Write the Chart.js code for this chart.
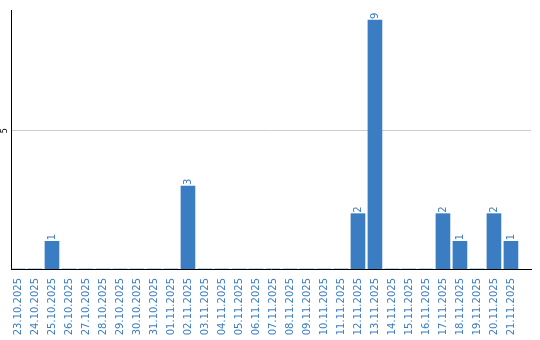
<!DOCTYPE html>
<html>
<head>
<meta charset="UTF-8">
<title>chart</title>
<script src="https://cdn.jsdelivr.net/npm/chart.js"></script>
<style>
    body { margin: 0; padding: 0; background: #fff; }
    .chart-container { width: 540px; height: 340px; position: relative; }
</style>
</head>
<body>
<div class="chart-container">
    <canvas id="barChart"></canvas>
</div>
<script>
    const dates = [
        '23.10.2025', '24.10.2025', '25.10.2025', '26.10.2025', '27.10.2025',
        '28.10.2025', '29.10.2025', '30.10.2025', '31.10.2025', '01.11.2025',
        '02.11.2025', '03.11.2025', '04.11.2025', '05.11.2025', '06.11.2025',
        '07.11.2025', '08.11.2025', '09.11.2025', '10.11.2025', '11.11.2025',
        '12.11.2025', '13.11.2025', '14.11.2025', '15.11.2025', '16.11.2025',
        '17.11.2025', '18.11.2025', '19.11.2025', '20.11.2025', '21.11.2025'
    ];
    const counts = [
        0, 0, 1, 0, 0, 0, 0, 0, 0, 0,
        3, 0, 0, 0, 0, 0, 0, 0, 0, 0,
        2, 9, 0, 0, 0, 2, 1, 0, 2, 1
    ];
    const yTicks = [5];

    const blue = '#3b7dc3';

    // value labels above the bars + rotated "5" on the y axis
    const labelPlugin = {
        id: 'labels',
        afterDatasetsDraw(chart) {
            const ctx = chart.ctx;
            const meta = chart.getDatasetMeta(0);
            ctx.save();
            ctx.fillStyle = blue;
            ctx.font = '10px "DejaVu Sans"';
            ctx.textAlign = 'left';
            ctx.textBaseline = 'middle';
            meta.data.forEach((bar, i) => {
                if (!counts[i]) return;
                ctx.save();
                ctx.translate(bar.x, bar.y - 1);
                ctx.rotate(-Math.PI / 2);
                ctx.fillText(String(counts[i]), 0, 0);
                ctx.restore();
            });
            const y = chart.scales.y;
            ctx.fillStyle = '#000';
            ctx.font = '8px "DejaVu Sans"';
            ctx.textAlign = 'center';
            yTicks.forEach(v => {
                ctx.save();
                ctx.translate(5, y.getPixelForValue(v));
                ctx.rotate(-Math.PI / 2);
                ctx.fillText(String(v), 0, 0);
                ctx.restore();
            });
            ctx.restore();
        }
    };

    new Chart(document.getElementById('barChart'), {
        type: 'bar',
        data: {
            datasets: [{
                data: counts.map((v, i) => ({ x: i, y: v })),
                backgroundColor: blue,
                borderWidth: 0,
                barThickness: 14
            }]
        },
        options: {
            responsive: true,
            maintainAspectRatio: false,
            animation: false,
            layout: { padding: { top: 10, right: 9, left: 0, bottom: 0 } },
            plugins: { legend: { display: false }, tooltip: { enabled: false } },
            scales: {
                x: {
                    type: 'linear',
                    offset: false,
                    min: -0.41,
                    max: 30.18,
                    afterBuildTicks: s => { s.ticks = dates.map((d, i) => ({ value: i })); },
                    afterFit: s => { s.height = 71; },
                    grid: { display: false, drawTicks: false },
                    border: { display: true, color: '#000', width: 1 },
                    ticks: {
                        autoSkip: false,
                        minRotation: 90,
                        maxRotation: 90,
                        padding: 9,
                        color: blue,
                        font: { family: 'DejaVu Sans', size: 10 },
                        callback: v => dates[v]
                    }
                },
                y: {
                    min: 0,
                    max: 9.36,
                    afterBuildTicks: s => { s.ticks = yTicks.map(v => ({ value: v })); },
                    afterFit: s => { s.width = 11; },
                    grid: { color: '#cccccc', drawTicks: false },
                    border: { display: true, color: '#000', width: 1 },
                    ticks: { display: false }
                }
            }
        },
        plugins: [labelPlugin]
    });
</script>
</body>
</html>
